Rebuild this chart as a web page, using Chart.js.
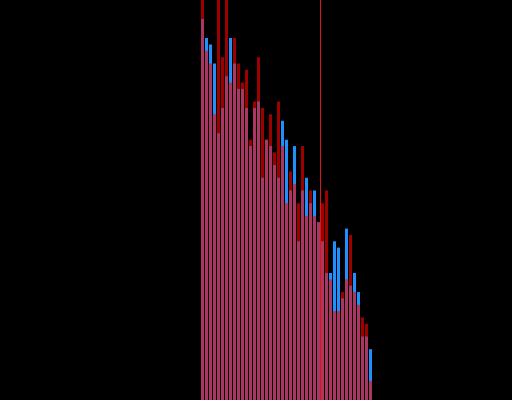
<!DOCTYPE html>
<html lang="en">
<head>
  <meta charset="UTF-8">
  <title>Overlaid histograms</title>
  <script src="https://cdn.jsdelivr.net/npm/chart.js"></script>
  <style>
    html, body { margin: 0; padding: 0; background: #000; }
    #wrap { width: 512px; height: 400px; }
  </style>
</head>
<body>
  <div id="wrap"><canvas id="histChart"></canvas></div>
  <script>
    // bin index of each bar (43 bins)
    const bins = [0, 1, 2, 3, 4, 5, 6, 7, 8, 9, 10, 11, 12, 13, 14, 15, 16, 17, 18, 19, 20,
                  21, 22, 23, 24, 25, 26, 27, 28, 29, 30, 31, 32, 33, 34, 35, 36, 37, 38, 39, 40, 41, 42];

    // counts per bin, blue series
    const blueCounts = [60, 57, 56, 53, 42, 46, 51, 57, 53, 49, 49, 46, 40, 46, 47, 35, 41, 40, 37, 35, 44,
                        41, 33, 40, 25, 33, 35, 31, 33, 28, 25, 20, 20, 25, 24, 16, 27, 18, 20, 17, 10, 10, 8];

    // counts per bin, red series (drawn on top, semi transparent)
    const redCounts = [66, 55, 53, 45, 65, 54, 64, 50, 57, 53, 50, 52, 41, 47, 54, 46, 41, 45, 39, 47, 40,
                       31, 36, 34, 31, 40, 29, 33, 29, 28, 31, 33, 19, 14, 14, 17, 19, 26, 17, 15, 13, 12, 3];

    // vertical marker position (between bins 29 and 30)
    const markerX = 29.5;
    const yMax = 63;

    const toPoints = (counts) => counts.map((c, i) => ({ x: bins[i], y: c }));

    new Chart(document.getElementById('histChart'), {
      type: 'bar',
      data: {
        datasets: [
          {
            type: 'line',
            data: [{ x: markerX, y: 0 }, { x: markerX, y: yMax }],
            borderColor: 'rgb(225, 20, 20)',
            borderWidth: 1,
            pointRadius: 0,
            order: 0
          },
          {
            data: toPoints(redCounts),
            backgroundColor: 'rgba(255, 0, 0, 0.62)',
            grouped: false,
            barThickness: 3,
            inflateAmount: 0,
            borderWidth: 0,
            order: 1
          },
          {
            data: toPoints(blueCounts),
            backgroundColor: '#1e90ff',
            grouped: false,
            barThickness: 3,
            inflateAmount: 0,
            borderWidth: 0,
            order: 2
          }
        ]
      },
      options: {
        responsive: true,
        maintainAspectRatio: false,
        animation: false,
        layout: { padding: 0 },
        plugins: {
          legend: { display: false },
          tooltip: { enabled: false }
        },
        scales: {
          x: { type: 'linear', min: -50.625, max: 77.375, offset: false, display: false },
          y: { min: 0, max: yMax, display: false }
        }
      }
    });
  </script>
</body>
</html>
